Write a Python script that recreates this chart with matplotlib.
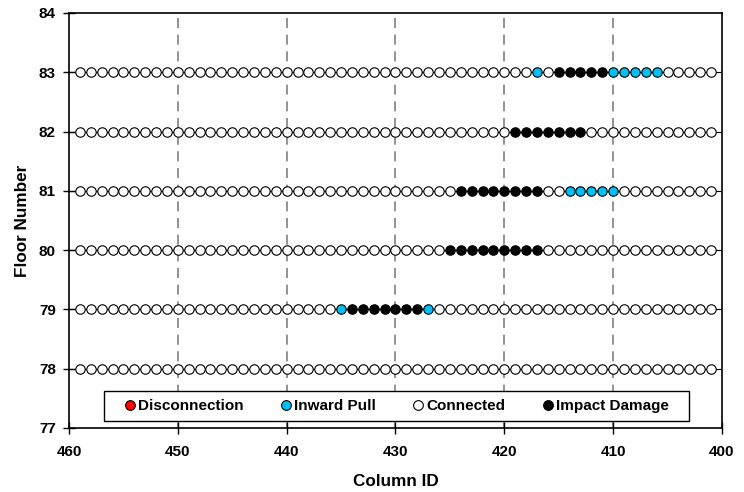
import matplotlib
matplotlib.use("Agg")
import matplotlib.pyplot as plt
from matplotlib.lines import Line2D
from matplotlib.patches import Rectangle

plt.rcParams['font.family'] = ['Liberation Sans', 'DejaVu Sans']

# Data
columns = list(range(459, 400, -1))       # column IDs 459 .. 401
floors = [78, 79, 80, 81, 82, 83]

# per floor: columns with impact damage / inward pull (rest connected)
impact = {
    78: [],
    79: [434, 433, 432, 431, 430, 429, 428],
    80: [425, 424, 423, 422, 421, 420, 419, 418, 417],
    81: [424, 423, 422, 421, 420, 419, 418, 417],
    82: [419, 418, 417, 416, 415, 414, 413],
    83: [415, 414, 413, 412, 411],
}
inward = {
    78: [],
    79: [435, 427],
    80: [],
    81: [414, 413, 412, 411, 410],
    82: [],
    83: [417, 410, 409, 408, 407, 406],
}
disconnected = {f: [] for f in floors}

CYAN = '#00BFF3'
RED = '#FF0000'

fig = plt.figure(figsize=(7.44, 4.92), dpi=100)
ax = fig.add_axes([0.0927, 0.1301, 0.8777, 0.8435])

for f in floors:
    ax.plot([460, 400], [f, f], color='black', lw=0.8, zorder=1)
    conn = [c for c in columns if c not in impact[f] and c not in inward[f]
            and c not in disconnected[f]]
    ax.plot(conn, [f] * len(conn), 'o', ms=6.8, mfc='white', mec='black',
            mew=0.8, zorder=3)
    ax.plot(impact[f], [f] * len(impact[f]), 'o', ms=6.8, mfc='black',
            mec='black', mew=0.8, zorder=3)
    ax.plot(inward[f], [f] * len(inward[f]), 'o', ms=6.8, mfc=CYAN,
            mec='black', mew=0.8, zorder=3)
    ax.plot(disconnected[f], [f] * len(disconnected[f]), 'o', ms=6.8,
            mfc=RED, mec='black', mew=0.8, zorder=3)

ax.set_xlim(460, 400)
ax.set_ylim(77, 84)
ax.set_xticks(range(460, 399, -10))
ax.set_yticks(range(77, 85))
for x in range(450, 409, -10):
    ax.axvline(x, color='#808080', lw=1.2, ls=(0, (6, 4)), zorder=0)

ax.tick_params(direction='inout', length=8, width=1, labelsize=11)
for lab in ax.get_xticklabels() + ax.get_yticklabels():
    lab.set_fontweight('bold')
ax.tick_params(axis='x', pad=8)
ax.tick_params(axis='y', pad=5.5)
for s in ax.spines.values():
    s.set_linewidth(1.2)

ax.set_xlabel('Column ID', fontsize=12.3, fontweight='bold')
ax.set_ylabel('Floor Number', fontsize=12.3, fontweight='bold')
ax.xaxis.set_label_coords(0.5, -0.11)
ax.yaxis.set_label_coords(-0.06, 0.5)

# legend frame drawn separately (wider padding than matplotlib's legend box)
ax.add_patch(Rectangle((0.0536, 0.0169), 0.8959, 0.0723,
                       transform=ax.transAxes, facecolor='white',
                       edgecolor='black', lw=1.0, zorder=4))

handles = [
    Line2D([], [], ls='none', marker='o', ms=7, mfc=RED, mec='black', mew=0.8),
    Line2D([], [], ls='none', marker='o', ms=7, mfc=CYAN, mec='black', mew=0.8),
    Line2D([], [], ls='none', marker='o', ms=7, mfc='white', mec='black', mew=0.8),
    Line2D([], [], ls='none', marker='o', ms=7, mfc='black', mec='black', mew=0.8),
]
labels = ['Disconnection', 'Inward Pull', 'Connected', 'Impact Damage']
leg = ax.legend(handles, labels, ncol=4, loc='center',
                bbox_to_anchor=(0.5015, 0.053), frameon=False,
                prop={'weight': 'bold', 'size': 11},
                handletextpad=0.15, columnspacing=2.4, borderpad=0.0,
                handlelength=0.75, borderaxespad=0)
leg.set_zorder(5)

fig.savefig('out.png', dpi=100)
